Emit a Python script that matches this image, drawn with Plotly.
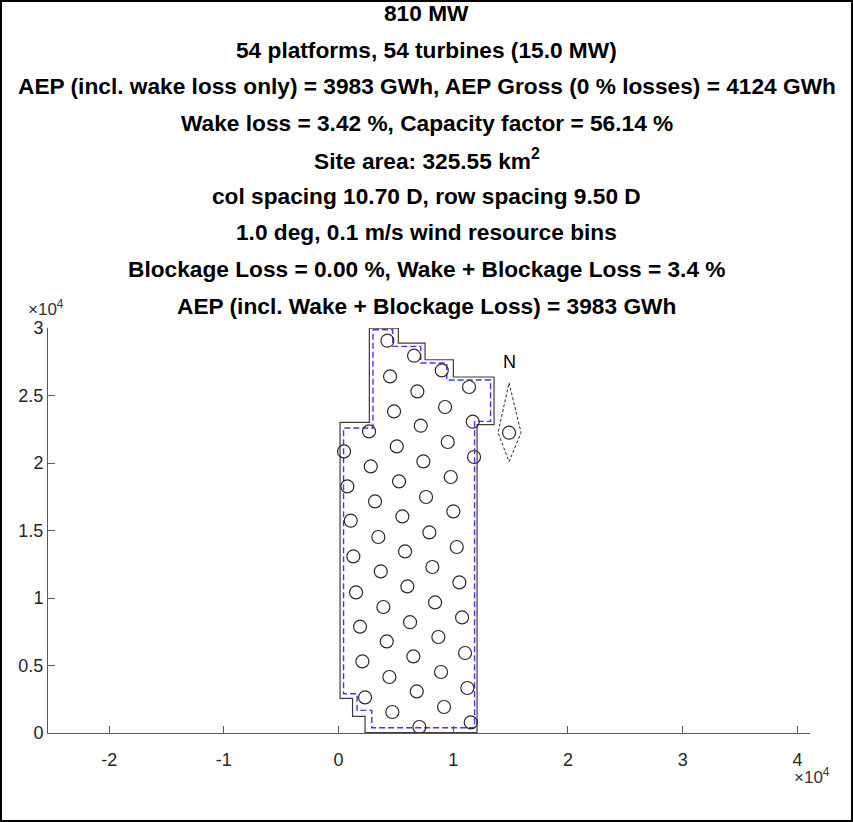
import plotly.graph_objects as go

# ---------------- data ----------------
title_lines = [
    "810 MW",
    "54 platforms, 54 turbines (15.0 MW)",
    "AEP (incl. wake loss only) = 3983 GWh, AEP Gross (0 % losses) = 4124 GWh",
    "Wake loss = 3.42 %, Capacity factor = 56.14 %",
    "Site area: 325.55 km<sup>2</sup>",
    "col spacing 10.70 D, row spacing 9.50 D",
    "1.0 deg, 0.1 m/s wind resource bins",
    "Blockage Loss = 0.00 %, Wake + Blockage Loss = 3.4 %",
    "AEP (incl. Wake + Blockage Loss) = 3983 GWh",
]

turbine_x = [4254, 6582, 8997, 11377,
             4490, 6870, 9285, 11700,
             4838, 7166, 9520, 11813,
             2659, 5074, 7393, 9782,
             479, 2807, 5274, 7628, 10008,
             767, 3182, 5562, 7916, 10305,
             1064, 3470, 5797, 8177, 10531,
             1290, 3679, 5998, 8413, 10767,
             1526, 3906, 6233, 8701, 11028,
             1874, 4202, 6521, 8936, 11229,
             2075, 4429, 6818, 9197, 11525,
             2310, 4690, 7044]
turbine_y = [29058, 27947, 26858, 25628,
             26413, 25302, 24147, 23058,
             23821, 22762, 21554, 20443,
             22340, 21229, 20117, 18962,
             20858, 19747, 18636, 17481, 16414,
             18266, 17155, 16044, 14858, 13777,
             15725, 14518, 13451, 12296, 11155,
             13081, 11970, 10859, 9674, 8563,
             10414, 9333, 8207, 7111, 5926,
             7874, 6785, 5674, 4518, 3333,
             5303, 4148, 3081, 1926, 785,
             2637, 1556, 444]

boundary_x = [2685, 5213, 5213, 7541, 7541, 10008, 10008, 13557, 13557, 12074,
              12074, 2310, 2310, 1221, 1221, 131, 131, 2685, 2685]
boundary_y = [29990, 29990, 28887, 28887, 27650, 27650, 26369, 26369, 22836, 22836,
              30, 30, 1230, 1230, 2563, 2563, 23006, 23006, 29990]

buffer_x = [3000, 4725, 4725, 7166, 7166, 9433, 9433, 13251, 13251, 11856,
            11856, 2894, 2894, 1613, 1613, 436, 436, 3000, 3000]
buffer_y = [29873, 29873, 28636, 28636, 27406, 27406, 26147, 26147, 23080, 23080,
            393, 393, 1674, 1674, 2911, 2911, 22591, 22591, 29873]

north_x = [14864, 15910, 14864, 13905, 14864]
north_y = [25947, 22243, 20096, 22243, 25947]
north_center = (14864, 22243)
north_label_pos = (14864, 27450)

x_ticks = [-20000, -10000, 0, 10000, 20000, 30000, 40000]
x_tick_labels = ["-2", "-1", "0", "1", "2", "3", "4"]
y_ticks = [0, 5000, 10000, 15000, 20000, 25000, 30000]
y_tick_labels = ["0", "0.5", "1", "1.5", "2", "2.5", "3"]

# ---------------- layout geometry ----------------
W, H = 853, 822
L, R, T, B = 48, 43, 328, 89
PW, PH = W - L - R, H - T - B

FONT = "Liberation Sans, Arial, Helvetica, sans-serif"
AXC = "#5a5a5a"

fig = go.Figure()

fig.add_trace(go.Scatter(x=boundary_x, y=boundary_y, mode="lines",
                         line=dict(color="#3c3c3c", width=1.2), hoverinfo="skip"))
fig.add_trace(go.Scatter(x=buffer_x, y=buffer_y, mode="lines",
                         line=dict(color="#3a3aff", width=1.4, dash="6px,3px"), hoverinfo="skip"))
fig.add_trace(go.Scatter(x=turbine_x, y=turbine_y, mode="markers", cliponaxis=False,
                         marker=dict(symbol="circle-open", size=13, color="#2a2a2a",
                                     line=dict(width=1.2, color="#2a2a2a"))))
fig.add_trace(go.Scatter(x=north_x, y=north_y, mode="lines",
                         line=dict(color="#2a2a2a", width=1, dash="3px,2px"), hoverinfo="skip"))
fig.add_trace(go.Scatter(x=[north_center[0]], y=[north_center[1]], mode="markers",
                         cliponaxis=False,
                         marker=dict(symbol="circle-open", size=13, color="#2a2a2a",
                                     line=dict(width=1.2, color="#2a2a2a"))))

annotations = []
line_px = [13, 49.5, 86, 122.5, 159, 195.5, 232, 268.5, 306]
for txt, py in zip(title_lines, line_px):
    annotations.append(dict(text=txt, xref="paper", yref="paper",
                            x=(W / 2 - L) / PW, y=(H - B - py) / PH,
                            xanchor="center", yanchor="middle", showarrow=False,
                            font=dict(family=FONT, size=22.7, color="#000000", weight="bold")))
annotations.append(dict(text="N", xref="x", yref="y", x=north_label_pos[0], y=north_label_pos[1],
                        showarrow=False, xanchor="center", yanchor="middle",
                        font=dict(family=FONT, size=18, color="#000000")))
annotations.append(dict(text="\u00d710<sup>4</sup>", xref="paper", yref="paper",
                        x=(26 - L) / PW, y=(H - B - 308) / PH, xanchor="left", yanchor="middle",
                        showarrow=False, font=dict(family=FONT, size=17, color="#333333")))
annotations.append(dict(text="\u00d710<sup>4</sup>", xref="paper", yref="paper",
                        x=(832 - L) / PW, y=(H - B - 776) / PH, xanchor="right", yanchor="middle",
                        showarrow=False, font=dict(family=FONT, size=17, color="#333333")))

fig.update_layout(
    width=W, height=H,
    margin=dict(l=L, r=R, t=T, b=B),
    paper_bgcolor="white", plot_bgcolor="white",
    showlegend=False,
    annotations=annotations,
    shapes=[dict(type="rect", xref="paper", yref="paper",
                 x0=(1 - L) / PW, x1=(W - 1 - L) / PW,
                 y0=-(B - 1) / PH, y1=1 + (T - 1) / PH,
                 line=dict(color="#000000", width=2), layer="above")],
    xaxis=dict(range=[-25330, 41100], tickvals=x_ticks, ticktext=x_tick_labels,
               showline=True, linecolor=AXC, linewidth=1, ticks="inside", ticklen=7,
               tickcolor=AXC, showgrid=False, zeroline=False, mirror=False,
               ticklabelstandoff=10,
               tickfont=dict(family=FONT, size=18, color="#262626")),
    yaxis=dict(range=[0, 30000], tickvals=y_ticks, ticktext=y_tick_labels,
               showline=True, linecolor=AXC, linewidth=1, ticks="inside", ticklen=7,
               tickcolor=AXC, showgrid=False, zeroline=False, mirror=False,
               tickfont=dict(family=FONT, size=18, color="#262626")),
)

fig.write_html("out.html", config={"displayModeBar": False},
               post_script="document.body.style.margin='0';document.body.style.padding='0';")
